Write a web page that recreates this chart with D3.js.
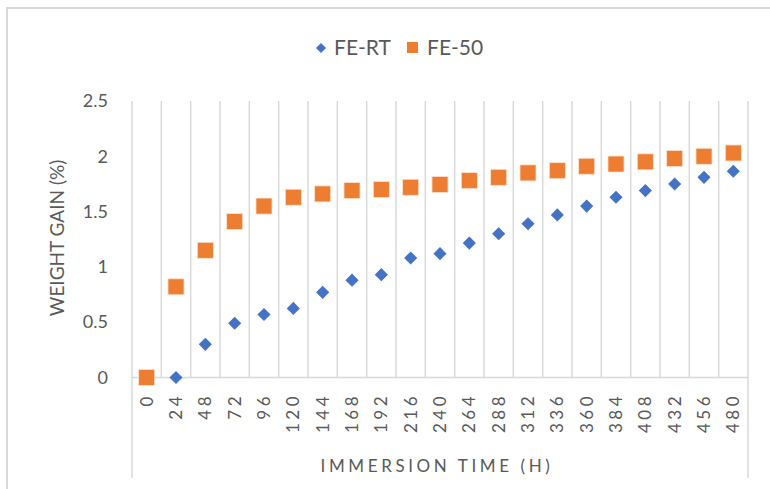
<!DOCTYPE html>
<html>
<head>
<meta charset="utf-8">
<script src="https://cdn.jsdelivr.net/npm/d3@7"></script>
<style>
  body { margin: 0; background: #fff; }
  text { font-family: Lato, "Liberation Sans", sans-serif; fill: #595959; }
</style>
</head>
<body>
<svg id="chart" width="770" height="489"></svg>
<script>
// data ----------------------------------------
var hours = [0, 24, 48, 72, 96, 120, 144, 168, 192, 216, 240, 264, 288, 312, 336, 360, 384, 408, 432, 456, 480];
var feRT = [0, 0, 0.30, 0.49, 0.57, 0.625, 0.77, 0.88, 0.93, 1.08, 1.12, 1.215, 1.30, 1.39, 1.47, 1.55, 1.63, 1.69, 1.75, 1.81, 1.865];
var fe50 = [0, 0.82, 1.15, 1.41, 1.55, 1.63, 1.66, 1.69, 1.70, 1.72, 1.745, 1.78, 1.81, 1.85, 1.87, 1.91, 1.93, 1.95, 1.98, 2.0, 2.03];
var yTicks = [0, 0.5, 1, 1.5, 2, 2.5];

var svg = d3.select("#chart");
var gridColor = "#d9d9d9";

// outer chart border
svg.append("path")
  .attr("d", "M7,489 V8 H770")
  .attr("fill", "none")
  .attr("stroke", gridColor)
  .attr("stroke-width", 2);

// scales ----------------------------------------
var x = d3.scaleBand()
  .domain(hours)
  .range([132, 748])
  .padding(0);

var y = d3.scaleLinear()
  .domain([0, 2.5])
  .range([377.5, 101]);

// vertical gridlines between categories
var bounds = hours.map(function(h) { return x(h); }).concat([x.range()[1]]);
svg.append("g")
  .selectAll("line")
  .data(bounds)
  .enter().append("line")
  .attr("x1", function(d) { return d; })
  .attr("x2", function(d) { return d; })
  .attr("y1", y(2.5))
  .attr("y2", function(d, i) { return (i === 0 || i === bounds.length - 1) ? 478 : y(0); })
  .attr("stroke", gridColor)
  .attr("stroke-width", 1.5);

// x axis line
svg.append("line")
  .attr("x1", x.range()[0]).attr("x2", x.range()[1])
  .attr("y1", y(0)).attr("y2", y(0))
  .attr("stroke", gridColor)
  .attr("stroke-width", 1.5);

// y axis ----------------------------------------
var yAxis = svg.append("g")
  .attr("transform", "translate(110,0)")
  .call(d3.axisLeft(y).tickValues(yTicks).tickSize(0).tickPadding(2)
    .tickFormat(function(d) { return d; }));
yAxis.select(".domain").remove();
yAxis.selectAll("text")
  .style("font-size", "18px")
  .style("font-family", "Lato, 'Liberation Sans', sans-serif")
  .attr("fill", "#595959");

// x tick labels (rotated)
svg.append("g")
  .selectAll("text")
  .data(hours)
  .enter().append("text")
  .attr("transform", function(d) {
    return "translate(" + (x(d) + x.bandwidth() / 2) + ",393) rotate(-90)";
  })
  .attr("text-anchor", "end")
  .attr("dy", "0.35em")
  .style("font-size", "17px")
  .style("letter-spacing", "3.5px")
  .text(function(d) { return d; });

// axis titles
svg.append("text")
  .attr("transform", "translate(64,238) rotate(-90)")
  .attr("text-anchor", "middle")
  .style("font-size", "19px")
  .text("WEIGHT GAIN (%)");

svg.append("text")
  .attr("x", 437)
  .attr("y", 472)
  .attr("text-anchor", "middle")
  .style("font-size", "17px")
  .style("letter-spacing", "3.6px")
  .text("IMMERSION TIME (H)");

// series ----------------------------------------
var cx = function(d, i) { return x(hours[i]) + x.bandwidth() / 2; };

svg.append("g")
  .selectAll("path")
  .data(feRT)
  .enter().append("path")
  .attr("d", d3.symbol().type(d3.symbolDiamond2).size(110))
  .attr("transform", function(d, i) { return "translate(" + cx(d, i) + "," + y(d) + ")"; })
  .attr("fill", "#4472c4");

svg.append("g")
  .selectAll("rect")
  .data(fe50)
  .enter().append("rect")
  .attr("x", function(d, i) { return cx(d, i) - 8; })
  .attr("y", function(d) { return y(d) - 8; })
  .attr("width", 16)
  .attr("height", 16)
  .attr("fill", "#ed7d31")
  .attr("stroke", "#fbe0cf")
  .attr("stroke-width", 0.8);

// legend ----------------------------------------
var legend = svg.append("g");
legend.append("path")
  .attr("d", d3.symbol().type(d3.symbolDiamond2).size(65))
  .attr("transform", "translate(321,48)")
  .attr("fill", "#4472c4");
legend.append("text")
  .attr("x", 334).attr("y", 55)
  .style("font-size", "21px")
  .text("FE-RT");
legend.append("rect")
  .attr("x", 407).attr("y", 42)
  .attr("width", 11).attr("height", 11)
  .attr("fill", "#ed7d31");
legend.append("text")
  .attr("x", 427).attr("y", 55)
  .style("font-size", "21px")
  .text("FE-50");
</script>
</body>
</html>
